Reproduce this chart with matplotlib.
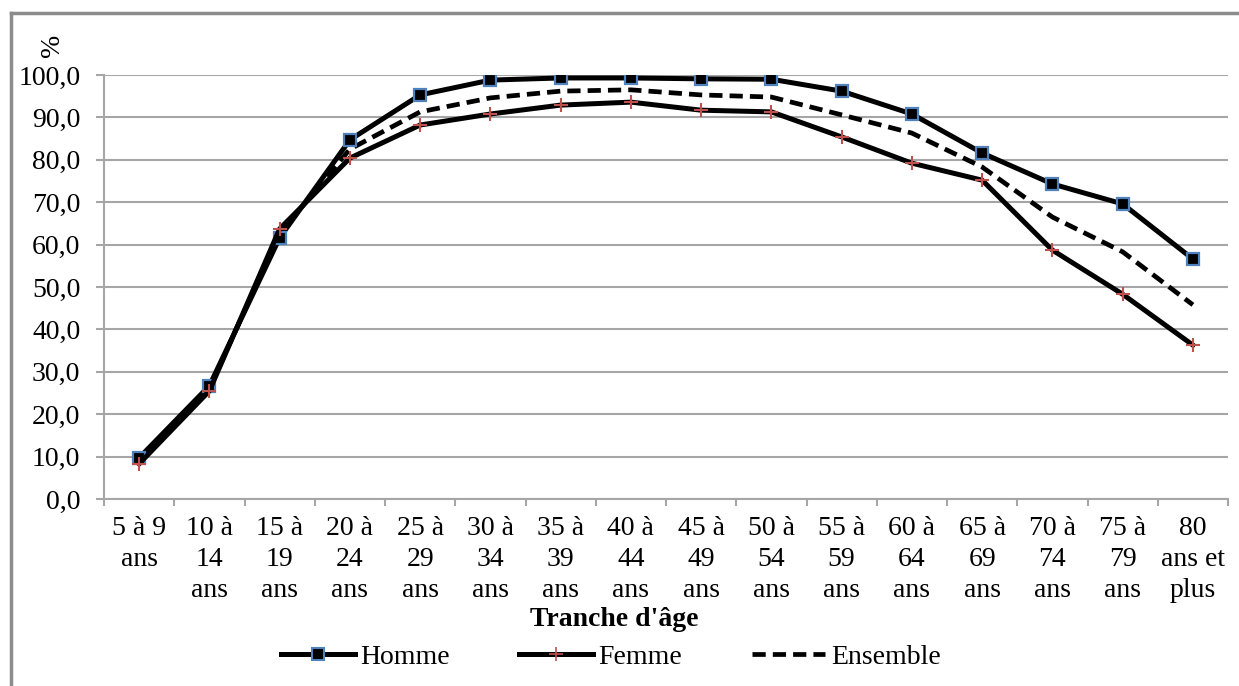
import matplotlib.pyplot as plt
from matplotlib.lines import Line2D
from matplotlib.ticker import FixedLocator, FuncFormatter

# -------------------------------
# Data
# -------------------------------
categories = ["5 à 9\nans", "10 à\n14\nans", "15 à\n19\nans", "20 à\n24\nans",
              "25 à\n29\nans", "30 à\n34\nans", "35 à\n39\nans", "40 à\n44\nans",
              "45 à\n49\nans", "50 à\n54\nans", "55 à\n59\nans", "60 à\n64\nans",
              "65 à\n69\nans", "70 à\n74\nans", "75 à\n79\nans", "80\nans et\nplus"]

homme = [9.7, 26.7, 61.6, 84.7, 95.3, 98.8, 99.3, 99.3, 99.1, 99.0,
         96.2, 90.8, 81.6, 74.3, 69.6, 56.6]
femme = [8.3, 25.5, 63.7, 80.4, 88.2, 90.8, 92.9, 93.6, 91.7, 91.3,
         85.4, 79.2, 75.2, 58.7, 48.3, 36.3]
ensemble = [9.0, 26.1, 62.6, 82.5, 91.3, 94.6, 96.2, 96.5, 95.3, 94.8,
            90.6, 86.3, 78.3, 66.5, 58.3, 45.8]

y_ticks = [0, 10, 20, 30, 40, 50, 60, 70, 80, 90, 100]

plt.rcParams['font.family'] = ['Liberation Serif', 'DejaVu Serif']

GRID = "#a6a6a6"
BLUE = "#4f81bd"
RED = "#c0504d"
FS = 20

fig = plt.figure(figsize=(12.39, 6.86), dpi=100)
ax = fig.add_axes([104 / 1239, 1 - 499 / 686, (1228 - 104) / 1239, (499 - 75) / 686])

x = list(range(len(categories)))

ax.plot(x, ensemble, color="black", lw=3.4, dashes=(2.8, 1.5), zorder=3)
ax.plot(x, homme, color="black", lw=3.6, marker="s", markersize=8.5,
        markerfacecolor="black", markeredgecolor=BLUE, markeredgewidth=1.6, zorder=4)
ax.plot(x, femme, color="black", lw=3.6, marker="+", markersize=10,
        markeredgecolor=RED, markeredgewidth=1.5, zorder=5)

ax.set_xlim(-0.5, len(categories) - 0.5)
ax.set_ylim(0, 100)

# y axis
ax.yaxis.set_major_locator(FixedLocator(y_ticks))
ax.yaxis.set_major_formatter(FuncFormatter(lambda v, p: f"{v:.1f}".replace(".", ",")))
ax.grid(axis="y", color=GRID, lw=1.5)
ax.set_axisbelow(True)

# x axis: tick marks at boundaries, labels at centers
ax.set_xticks([i - 0.5 for i in range(len(categories) + 1)])
ax.set_xticklabels([])
ax.set_xticks(x, minor=True)
ax.set_xticklabels(categories, minor=True, fontsize=FS, linespacing=1.32, va="top")
ax.tick_params(axis="x", which="minor", length=0, pad=12)
ax.tick_params(axis="x", which="major", length=5, width=1.5, color=GRID)
ax.tick_params(axis="y", length=6, width=1.5, color=GRID, labelsize=FS, pad=11)

for side in ["top", "right"]:
    ax.spines[side].set_visible(False)
for side in ["left", "bottom"]:
    ax.spines[side].set_color(GRID)
    ax.spines[side].set_linewidth(1.5)

fig.text(52 / 1239, 1 - 45 / 686, "%", rotation=90, fontsize=FS,
         ha="center", va="center")
fig.text(614 / 1239, 1 - 620 / 686, "Tranche d'âge", fontsize=20,
         fontweight="bold", ha="center", va="center")

handles = [
    Line2D([], [], color="black", lw=3.6, marker="s", markersize=8,
           markerfacecolor="black", markeredgecolor=BLUE, markeredgewidth=1.5),
    Line2D([], [], color="black", lw=3.6, marker="+", markersize=10,
           markeredgecolor=RED, markeredgewidth=1.2),
    Line2D([], [], color="black", lw=3.4, dashes=(2.8, 1.5)),
]
fig.legend(handles, ["Homme", "Femme", "Ensemble"], loc="center",
           bbox_to_anchor=(611 / 1239, 1 - 657 / 686), ncol=3, frameon=False,
           fontsize=FS, handlelength=2.65, handletextpad=0.2, columnspacing=2.5)

# outer frame (top and left edges visible)
fig.add_artist(Line2D([11 / 1239, 1.0], [1 - 13 / 686, 1 - 13 / 686],
                      transform=fig.transFigure, color="#8c8c8c", lw=2.5))
fig.add_artist(Line2D([11 / 1239, 11 / 1239], [1 - 13 / 686, 0.0],
                      transform=fig.transFigure, color="#8c8c8c", lw=2.5))

fig.savefig("out.png", dpi=100)
